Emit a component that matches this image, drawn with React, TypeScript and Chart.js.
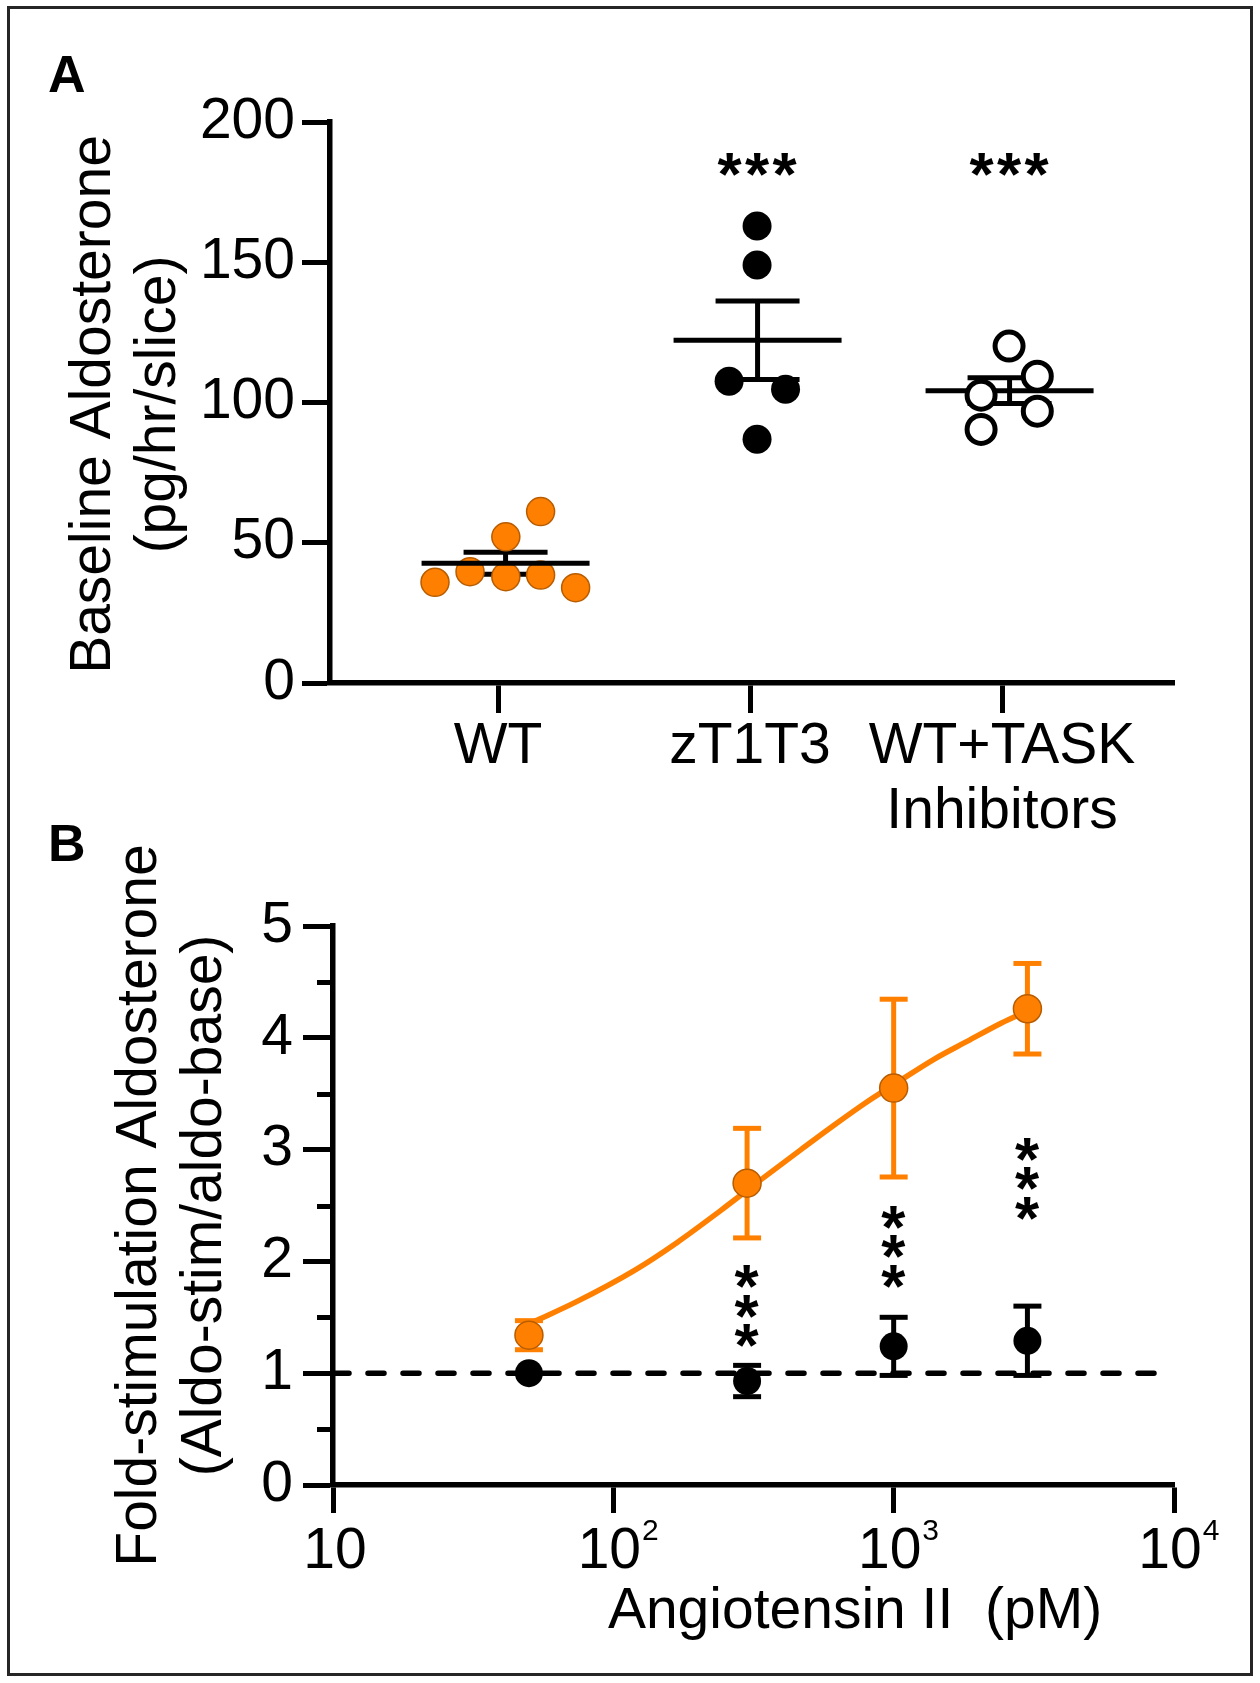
import React, { useEffect, useRef } from "react";
import { Chart, registerables } from "chart.js";

Chart.register(...registerables);

const FONT = "'Liberation Sans', Arial, Helvetica, sans-serif";
const BLACK = "#000000";
const ORANGE = "#FF8000";
const ORANGE_EDGE = "#B85C00";

// ---------------- Panel A data ----------------
const categoryLabels: (string | string[])[] = ["WT", "zT1T3", ["WT+TASK", "Inhibitors"]];
const categoryTicks = [1, 2, 3];
const groupCenters = [1.03, 2.03, 3.03];
const wtX = [0.75, 0.889, 1.031, 1.031, 1.169, 1.169, 1.308];
const wtY = [35.9, 39.7, 37.9, 52.1, 38.5, 61.1, 34.0];
const zX = [2.028, 2.028, 1.917, 2.141, 2.028];
const zY = [162.9, 149.0, 107.6, 104.7, 86.9];
const taskX = [3.028, 3.14, 2.917, 3.14, 2.917];
const taskY = [120.1, 109.4, 102.6, 96.9, 90.4];
const groupMeans = [42.7, 122.2, 104.2];
const groupSem = [3.95, 14.0, 4.6];
const sigGroupsA = [2.03, 3.03];
const sigValueA = 185;
const yTicksA = [0, 50, 100, 150, 200];

// ---------------- Panel B data ----------------
const doses = [50, 300, 1000, 3000];
const wtMean = [1.34, 2.7, 3.55, 4.26];
const wtSem = [0.13, 0.49, 0.795, 0.405];
const zMean = [1.0, 0.93, 1.24, 1.29];
const zSem = [0, 0.14, 0.26, 0.31];
const fitX = [52, 74, 119, 169, 240, 340, 467, 614, 807, 1000, 1397, 1835, 2415, 3000];
const fitY = [1.46, 1.64, 1.92, 2.17, 2.45, 2.74, 3.0, 3.22, 3.43, 3.58, 3.81, 3.97, 4.13, 4.24];
const baselineX = [10, 8500];
const baselineY = [1, 1];
const sigDosesB = [300, 1000, 3000];
const sigValueB = [1.6, 2.13, 2.74];
const xTickValsB = [10, 100, 1000, 10000];
const xTickExpB = ["", "2", "3", "4"];
const yTicksB = [0, 1, 2, 3, 4, 5];
const yMinorTicksB = [0.5, 1.5, 2.5, 3.5, 4.5];

// ---------------- helpers ----------------
const MEAN_HALF = 84;
const SEM_CAP = 42;
const ERR_CAP = 14;
const meanOnTop = [true, true, false];

function seg(ctx: CanvasRenderingContext2D, x1: number, y1: number, x2: number, y2: number) {
  ctx.beginPath();
  ctx.moveTo(x1, y1);
  ctx.lineTo(x2, y2);
  ctx.stroke();
}

function rotatedLines(ctx: CanvasRenderingContext2D, lines: string[], xs: number[], cy: number) {
  ctx.save();
  ctx.font = `57px ${FONT}`;
  ctx.fillStyle = BLACK;
  ctx.textAlign = "center";
  ctx.textBaseline = "alphabetic";
  lines.forEach((t, i) => {
    ctx.save();
    ctx.translate(xs[i], cy);
    ctx.rotate(-Math.PI / 2);
    ctx.fillText(t, 0, 0);
    ctx.restore();
  });
  ctx.restore();
}

function star(ctx: CanvasRenderingContext2D, cx: number, cy: number) {
  ctx.save();
  ctx.font = `bold 62px ${FONT}`;
  ctx.fillStyle = BLACK;
  ctx.textAlign = "left";
  ctx.textBaseline = "alphabetic";
  const m = ctx.measureText("*");
  const bx = cx - (m.actualBoundingBoxRight - m.actualBoundingBoxLeft) / 2;
  const by = cy + (m.actualBoundingBoxAscent - m.actualBoundingBoxDescent) / 2;
  ctx.fillText("*", bx, by);
  ctx.restore();
}

function panelLabel(ctx: CanvasRenderingContext2D, t: string, x: number, y: number) {
  ctx.save();
  ctx.font = `bold 52px ${FONT}`;
  ctx.fillStyle = BLACK;
  ctx.textAlign = "left";
  ctx.textBaseline = "alphabetic";
  ctx.fillText(t, x, y);
  ctx.restore();
}

const pts = (xs: number[], ys: number[]) => xs.map((x, i) => ({ x, y: ys[i] }));

// ---------------- Panel A ----------------
const panelAPlugin = {
  id: "panelADecor",
  beforeDatasetsDraw(chart: any) {
    const { ctx, scales } = chart;
    const x = scales.x, y = scales.y;
    ctx.save();
    ctx.strokeStyle = BLACK;
    ctx.lineWidth = 5;
    groupCenters.forEach((c, i) => {
      const px = x.getPixelForValue(c);
      const hi = y.getPixelForValue(groupMeans[i] + groupSem[i]);
      const lo = y.getPixelForValue(groupMeans[i] - groupSem[i]);
      seg(ctx, px, hi, px, lo);
      seg(ctx, px - SEM_CAP, hi, px + SEM_CAP, hi);
      seg(ctx, px - SEM_CAP, lo, px + SEM_CAP, lo);
      if (!meanOnTop[i]) {
        const my = y.getPixelForValue(groupMeans[i]);
        seg(ctx, px - MEAN_HALF, my, px + MEAN_HALF, my);
      }
    });
    ctx.restore();
  },
  afterDatasetsDraw(chart: any) {
    const { ctx, scales } = chart;
    const x = scales.x, y = scales.y;
    ctx.save();
    ctx.strokeStyle = BLACK;
    ctx.lineWidth = 5;
    groupCenters.forEach((c, i) => {
      if (meanOnTop[i]) {
        const px = x.getPixelForValue(c);
        const my = y.getPixelForValue(groupMeans[i]);
        seg(ctx, px - MEAN_HALF, my, px + MEAN_HALF, my);
      }
    });
    ctx.restore();
  },
  afterDraw(chart: any) {
    const { ctx, scales, chartArea } = chart;
    const x = scales.x, y = scales.y;
    panelLabel(ctx, "A", 48, 92);
    const cy = (chartArea.top + chartArea.bottom) / 2 + 2;
    rotatedLines(ctx, ["Baseline Aldosterone", "(pg/hr/slice)"], [110, 175], cy);
    sigGroupsA.forEach((g) => {
      const px = x.getPixelForValue(g);
      const py = y.getPixelForValue(sigValueA);
      [-1, 0, 1].forEach((k) => star(ctx, px + k * 27.5, py));
    });
  },
};

function PanelA() {
  const ref = useRef<HTMLCanvasElement>(null);
  useEffect(() => {
    const chart = new Chart(ref.current as HTMLCanvasElement, {
      type: "scatter",
      data: {
        datasets: [
          {
            data: pts(taskX, taskY),
            pointRadius: 14,
            pointBackgroundColor: "#ffffff",
            pointBorderColor: BLACK,
            pointBorderWidth: 5,
          },
          {
            data: pts(zX, zY),
            pointRadius: 14.5,
            pointBackgroundColor: BLACK,
            pointBorderColor: BLACK,
            pointBorderWidth: 0,
          },
          {
            data: pts(wtX, wtY),
            pointRadius: 14,
            pointBackgroundColor: ORANGE,
            pointBorderColor: ORANGE_EDGE,
            pointBorderWidth: 1.5,
          },
        ],
      },
      options: {
        animation: false,
        responsive: false,
        maintainAspectRatio: false,
        devicePixelRatio: 1,
        events: [],
        layout: { padding: { left: 0, top: 122, right: 86, bottom: 0 } },
        plugins: { legend: { display: false }, tooltip: { enabled: false } },
        scales: {
          x: {
            type: "linear",
            min: 0.3333,
            max: 3.6825,
            afterBuildTicks: (s: any) => {
              s.ticks = categoryTicks.map((v) => ({ value: v }));
            },
            afterFit: (s: any) => {
              s.height = 177;
            },
            ticks: {
              autoSkip: false,
              maxRotation: 0,
              minRotation: 0,
              padding: 2,
              color: BLACK,
              font: { family: FONT, size: 57, lineHeight: 1.14 },
              callback: (v: any) => {
                const i = categoryTicks.indexOf(Number(v));
                return i >= 0 ? (categoryLabels[i] as any) : "";
              },
            },
            grid: { drawOnChartArea: false, drawTicks: true, tickLength: 30, tickWidth: 5, tickColor: BLACK },
            border: { display: true, width: 5.5, color: BLACK },
          },
          y: {
            type: "linear",
            min: 0,
            max: 200,
            afterBuildTicks: (s: any) => {
              s.ticks = yTicksA.map((v) => ({ value: v }));
            },
            afterFit: (s: any) => {
              s.width = 330;
            },
            ticks: { padding: 7, color: BLACK, font: { family: FONT, size: 57 } },
            grid: { drawOnChartArea: false, drawTicks: true, tickLength: 28, tickWidth: 5, tickColor: BLACK },
            border: { display: true, width: 5.5, color: BLACK },
          },
        },
      },
      plugins: [panelAPlugin],
    } as any);
    return () => chart.destroy();
  }, []);
  return (
    <canvas
      ref={ref}
      width={1260}
      height={860}
      style={{ position: "absolute", left: 0, top: 0, width: 1260, height: 860 }}
    />
  );
}

// ---------------- Panel B ----------------
const panelBPlugin = {
  id: "panelBDecor",
  beforeDatasetsDraw(chart: any) {
    const { ctx, scales } = chart;
    const x = scales.x, y = scales.y;
    ctx.save();
    ctx.lineWidth = 5;
    const bars = (means: number[], sems: number[], color: string) => {
      ctx.strokeStyle = color;
      doses.forEach((d, i) => {
        if (!sems[i]) return;
        const px = x.getPixelForValue(d);
        const hi = y.getPixelForValue(means[i] + sems[i]);
        const lo = y.getPixelForValue(means[i] - sems[i]);
        seg(ctx, px, hi, px, lo);
        seg(ctx, px - ERR_CAP, hi, px + ERR_CAP, hi);
        seg(ctx, px - ERR_CAP, lo, px + ERR_CAP, lo);
      });
    };
    bars(wtMean, wtSem, ORANGE);
    bars(zMean, zSem, BLACK);
    ctx.restore();
  },
  afterDraw(chart: any) {
    const { ctx, scales, chartArea } = chart;
    const x = scales.x, y = scales.y;
    // minor y ticks
    ctx.save();
    ctx.strokeStyle = BLACK;
    ctx.lineWidth = 5;
    yMinorTicksB.forEach((v) => {
      const py = Math.round(y.getPixelForValue(v)) + 0.5;
      seg(ctx, chartArea.left - 16, py, chartArea.left - 2, py);
    });
    ctx.restore();

    // x tick labels with superscripts
    ctx.save();
    ctx.fillStyle = BLACK;
    ctx.textAlign = "left";
    ctx.textBaseline = "alphabetic";
    xTickValsB.forEach((v, i) => {
      const px = x.getPixelForValue(v);
      const exp = xTickExpB[i];
      ctx.font = `57px ${FONT}`;
      const w = ctx.measureText("10").width;
      const cx = px + (exp ? -4 : 2);
      ctx.fillText("10", cx - w / 2, chartArea.bottom + 83);
      if (exp) {
        ctx.font = `30px ${FONT}`;
        ctx.fillText(exp, cx + w / 2 + 1, chartArea.bottom + 55);
      }
    });
    ctx.font = `57px ${FONT}`;
    ctx.textAlign = "center";
    ctx.fillText("Angiotensin II  (pM)", 855, chartArea.bottom + 143);
    ctx.restore();

    panelLabel(ctx, "B", 48, 81);
    const cy = (chartArea.top + chartArea.bottom) / 2;
    rotatedLines(ctx, ["Fold-stimulation Aldosterone", "(Aldo-stim/aldo-base)"], [156, 221], cy);

    sigDosesB.forEach((d, i) => {
      const px = x.getPixelForValue(d);
      const py = y.getPixelForValue(sigValueB[i]);
      [-1, 0, 1].forEach((k) => star(ctx, px, py + k * 29.5));
    });
  },
};

function PanelB() {
  const ref = useRef<HTMLCanvasElement>(null);
  useEffect(() => {
    const chart = new Chart(ref.current as HTMLCanvasElement, {
      type: "scatter",
      data: {
        datasets: [
          {
            data: pts(doses, zMean),
            pointRadius: 14,
            pointBackgroundColor: BLACK,
            pointBorderColor: BLACK,
            pointBorderWidth: 0,
          },
          {
            type: "line",
            data: pts(baselineX, baselineY),
            borderColor: BLACK,
            borderWidth: 5.5,
            borderDash: [16, 19],
            borderCapStyle: "round",
            pointRadius: 0,
            fill: false,
          },
          {
            data: pts(doses, wtMean),
            pointRadius: 14,
            pointBackgroundColor: ORANGE,
            pointBorderColor: ORANGE_EDGE,
            pointBorderWidth: 1.5,
          },
          {
            type: "line",
            data: pts(fitX, fitY),
            borderColor: ORANGE,
            borderWidth: 5.5,
            cubicInterpolationMode: "monotone",
            pointRadius: 0,
            fill: false,
          },
        ],
      },
      options: {
        animation: false,
        responsive: false,
        maintainAspectRatio: false,
        devicePixelRatio: 1,
        events: [],
        layout: { padding: { left: 0, top: 146, right: 86, bottom: 0 } },
        plugins: { legend: { display: false }, tooltip: { enabled: false } },
        scales: {
          x: {
            type: "logarithmic",
            min: 10,
            max: 10000,
            afterBuildTicks: (s: any) => {
              s.ticks = xTickValsB.map((v) => ({ value: v }));
            },
            afterFit: (s: any) => {
              s.height = 198;
            },
            ticks: { display: false },
            grid: { drawOnChartArea: false, drawTicks: true, tickLength: 28, tickWidth: 5, tickColor: BLACK },
            border: { display: true, width: 5.5, color: BLACK },
          },
          y: {
            type: "linear",
            min: 0,
            max: 5,
            afterBuildTicks: (s: any) => {
              s.ticks = yTicksB.map((v) => ({ value: v }));
            },
            afterFit: (s: any) => {
              s.width = 333;
            },
            ticks: { padding: 10, color: BLACK, font: { family: FONT, size: 57 } },
            grid: { drawOnChartArea: false, drawTicks: true, tickLength: 30, tickWidth: 5, tickColor: BLACK },
            border: { display: true, width: 5.5, color: BLACK },
          },
        },
      },
      plugins: [panelBPlugin],
    } as any);
    return () => chart.destroy();
  }, []);
  return (
    <canvas
      ref={ref}
      width={1260}
      height={903}
      style={{ position: "absolute", left: 0, top: 780, width: 1260, height: 903 }}
    />
  );
}

export default function App() {
  return (
    <div
      style={{
        position: "absolute",
        left: 0,
        top: 0,
        width: 1260,
        height: 1683,
        background: "#ffffff",
        overflow: "hidden",
      }}
    >
      <div
        style={{
          position: "absolute",
          left: 7,
          top: 6,
          width: 1246,
          height: 1670,
          border: "3px solid #262626",
          boxSizing: "border-box",
        }}
      />
      <PanelA />
      <PanelB />
    </div>
  );
}
